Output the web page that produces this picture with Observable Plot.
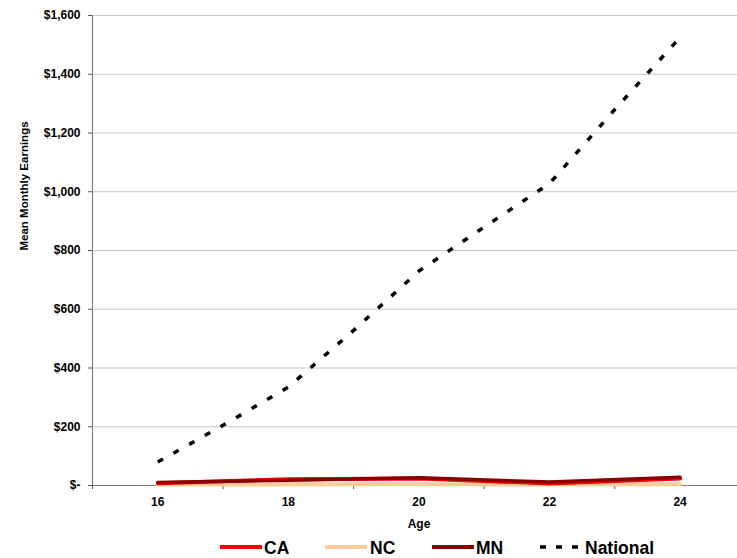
<!DOCTYPE html>
<html>
<head>
<meta charset="utf-8">
<script src="https://cdn.jsdelivr.net/npm/d3@7"></script>
<script src="https://cdn.jsdelivr.net/npm/@observablehq/plot@0.6"></script>
<style>
  body { margin: 0; background: #fff; font-family: "Liberation Sans", Arial, sans-serif; }
  #wrap { width: 737px; position: relative; }
  #legend { position: relative; width: 737px; height: 25px; font-weight: bold; font-size: 17.5px; color: #000; }
  #legend .sw { position: absolute; top: 9px; }
  #legend .lb { position: absolute; top: 5px; line-height: 20px; }
</style>
</head>
<body>
<div id="wrap"></div>
<script>
// ---- data ----
const ages = [16, 17, 18, 19, 20, 21, 22, 23, 24];
const national = [80, 205, 335, 528, 730, 880, 1028, 1280, 1525];
const stateAges = [16, 18, 20, 22, 24];
const caValues = [8, 21, 24, 7, 24];
const ncValues = [3, 4, 4, 3, 4];
const mnValues = [10, 18, 26, 12, 28];
const yTicks = [0, 200, 400, 600, 800, 1000, 1200, 1400, 1600];
const xLabelTicks = [16, 18, 20, 22, 24];
const xMarkTicks = [15, 17, 19, 21, 23];
const seriesNames = ["CA", "NC", "MN", "National"];
const seriesColors = ["#ff0000", "#ffcc99", "#8b0000", "#000000"];

const nat = ages.map((a, i) => ({age: a, v: national[i]}));
const ca = stateAges.map((a, i) => ({age: a, v: caValues[i]}));
const nc = stateAges.map((a, i) => ({age: a, v: ncValues[i]}));
const mn = stateAges.map((a, i) => ({age: a, v: mnValues[i]}));

const fmt = v => v === 0 ? "$-" : "$" + d3.format(",")(v);
const font = {fontFamily: "Liberation Sans, Arial, sans-serif", fontWeight: "bold"};

const chart = Plot.plot({
  width: 737,
  height: 533,
  marginLeft: 92,
  marginRight: 0,
  marginTop: 15,
  marginBottom: 48,
  style: {fontFamily: "Liberation Sans, Arial, sans-serif", fontSize: "12px", fontWeight: "bold", background: "#fff"},
  x: {domain: [15, 24.88]},
  y: {domain: [0, 1600]},
  marks: [
    Plot.gridY(yTicks.filter(d => d > 0), {stroke: "#c8c8c8", strokeOpacity: 1, strokeWidth: 1}),
    Plot.ruleY([0], {stroke: "#808080", strokeWidth: 1.2}),
    Plot.ruleX([15], {stroke: "#808080", strokeWidth: 1.2}),
    Plot.axisY({ticks: yTicks, tickFormat: fmt, tickSize: 4, tickPadding: 8, label: null, stroke: "#555", fill: "#000"}),
    Plot.axisX({ticks: xMarkTicks, tickFormat: () => "", tickSize: 4, label: null, stroke: "#555"}),
    Plot.axisX({ticks: xLabelTicks, tickSize: 0, tickPadding: 12, label: null, fill: "#000"}),
    Plot.text(["Mean Monthly Earnings"], {frameAnchor: "left", dx: -68, dy: 0, rotate: -90, fontSize: 11.5, ...font}),
    Plot.text(["Age"], {frameAnchor: "bottom", dx: 4, dy: 42, fontSize: 12, ...font}),
    Plot.line(nc, {x: "age", y: "v", stroke: seriesColors[1], strokeWidth: 4}),
    Plot.line(ca, {x: "age", y: "v", stroke: seriesColors[0], strokeWidth: 4}),
    Plot.line(mn, {x: "age", y: "v", stroke: seriesColors[2], strokeWidth: 3.5}),
    Plot.line(nat, {x: "age", y: "v", stroke: seriesColors[3], strokeWidth: 3.5, strokeDasharray: "6,12", strokeLinecap: "butt"})
  ]
});
document.getElementById("wrap").appendChild(chart);

// legend
const legend = document.createElement("div");
legend.id = "legend";
const swLeft = [220, 325, 432, 540];
const lbLeft = [264, 370, 476, 585];
seriesNames.forEach((name, i) => {
  const sw = document.createElementNS("http://www.w3.org/2000/svg", "svg");
  sw.setAttribute("class", "sw");
  sw.setAttribute("width", 42);
  sw.setAttribute("height", 10);
  sw.style.left = swLeft[i] + "px";
  const ln = document.createElementNS("http://www.w3.org/2000/svg", "line");
  ln.setAttribute("x1", 0); ln.setAttribute("x2", 42);
  ln.setAttribute("y1", 5); ln.setAttribute("y2", 5);
  ln.setAttribute("stroke", seriesColors[i]);
  ln.setAttribute("stroke-width", name === "National" ? 3.5 : 4);
  if (name === "National") ln.setAttribute("stroke-dasharray", "6,10");
  sw.appendChild(ln);
  legend.appendChild(sw);
  const lb = document.createElement("span");
  lb.className = "lb";
  lb.style.left = lbLeft[i] + "px";
  lb.textContent = name;
  legend.appendChild(lb);
});
document.getElementById("wrap").appendChild(legend);
</script>
</body>
</html>
